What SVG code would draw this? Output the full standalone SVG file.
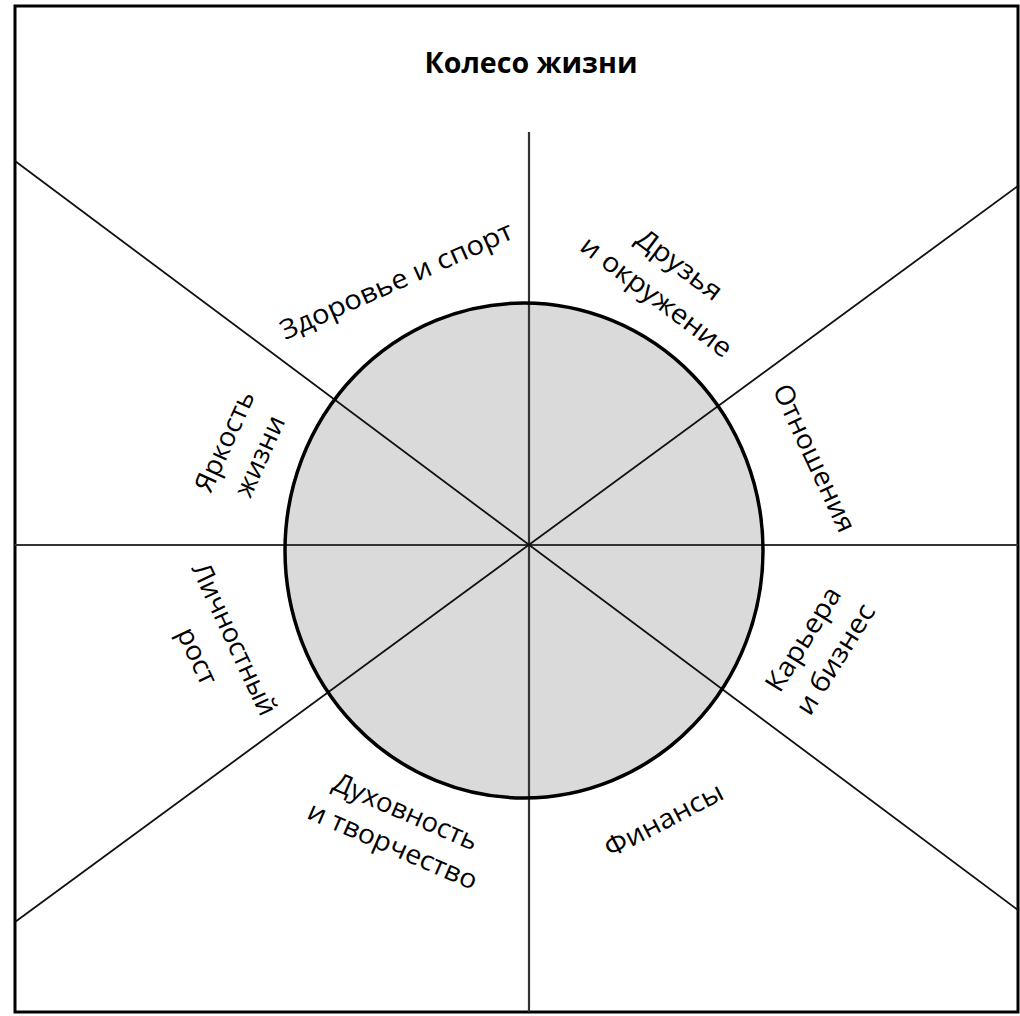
<svg xmlns="http://www.w3.org/2000/svg" width="1020" height="1016" viewBox="0 0 1020 1016">
  <style>
    .lbl { font-family: "Open Sans", "Noto Sans", "DejaVu Sans", sans-serif; font-size: 27px; fill: #000; text-anchor: middle; }
    .title { font-family: "Open Sans", "Noto Sans", "DejaVu Sans", sans-serif; font-size: 28px; font-weight: bold; fill: #000; text-anchor: middle; }
    .axis { stroke: #333; stroke-width: 2.2; fill: none; }
    .diag { stroke: #111; stroke-width: 1.8; fill: none; }
  </style>
  <rect x="0" y="0" width="1020" height="1016" fill="#fff"/>
  <g id="frame">
    <rect x="15" y="6" width="1003" height="1006" fill="none" stroke="#000" stroke-width="3"/>
  </g>
  <g id="title">
    <text class="title" x="531" y="73" textLength="213" lengthAdjust="spacingAndGlyphs">Колесо жизни</text>
  </g>
  <g id="wheel">
    <ellipse cx="524" cy="550.5" rx="239" ry="247.5" fill="#dadada" stroke="none"/>
  </g>
  <g id="connectors">
    <line class="axis" x1="529" y1="132" x2="529" y2="1012"/>
    <line class="axis" x1="15" y1="545" x2="1018" y2="545"/>
    <line class="diag" x1="15" y1="161" x2="1018" y2="910"/>
    <line class="diag" x1="15" y1="922" x2="1018" y2="186"/>
  </g>
  <g id="wheel-outline">
    <ellipse cx="524" cy="550.5" rx="239" ry="247.5" fill="none" stroke="#000" stroke-width="3.5"/>
  </g>
  <g id="health">
    <text class="lbl" transform="translate(400,289) rotate(-24)" textLength="252" lengthAdjust="spacingAndGlyphs">Здоровье и спорт</text>
  </g>
  <g id="friends">
    <text class="lbl" transform="translate(674,272) rotate(37)" textLength="100" lengthAdjust="spacingAndGlyphs">Друзья</text>
    <text class="lbl" transform="translate(651,304) rotate(37)" textLength="182" lengthAdjust="spacingAndGlyphs">и окружение</text>
  </g>
  <g id="relations">
    <text class="lbl" transform="translate(806,462) rotate(65)" textLength="160" lengthAdjust="spacingAndGlyphs">Отношения</text>
  </g>
  <g id="career">
    <text class="lbl" transform="translate(811,644) rotate(-58)" textLength="118" lengthAdjust="spacingAndGlyphs">Карьера</text>
    <text class="lbl" transform="translate(843,664) rotate(-58)" textLength="125" lengthAdjust="spacingAndGlyphs">и бизнес</text>
  </g>
  <g id="finance">
    <text class="lbl" transform="translate(668,828) rotate(-27.5)" textLength="130" lengthAdjust="spacingAndGlyphs">Финансы</text>
  </g>
  <g id="spirit">
    <text class="lbl" transform="translate(402,820) rotate(23.5)" textLength="155" lengthAdjust="spacingAndGlyphs">Духовность</text>
    <text class="lbl" transform="translate(389,854) rotate(23.5)" textLength="182" lengthAdjust="spacingAndGlyphs">и творчество</text>
  </g>
  <g id="growth">
    <text class="lbl" transform="translate(226,643) rotate(65)" textLength="165" lengthAdjust="spacingAndGlyphs">Личностный</text>
    <text class="lbl" transform="translate(189,660) rotate(65)" textLength="60" lengthAdjust="spacingAndGlyphs">рост</text>
  </g>
  <g id="brightness">
    <text class="lbl" transform="translate(233,445) rotate(-65.5)" textLength="108" lengthAdjust="spacingAndGlyphs">Яркость</text>
    <text class="lbl" transform="translate(268,460) rotate(-65.5)" textLength="86" lengthAdjust="spacingAndGlyphs">жизни</text>
  </g>
</svg>
